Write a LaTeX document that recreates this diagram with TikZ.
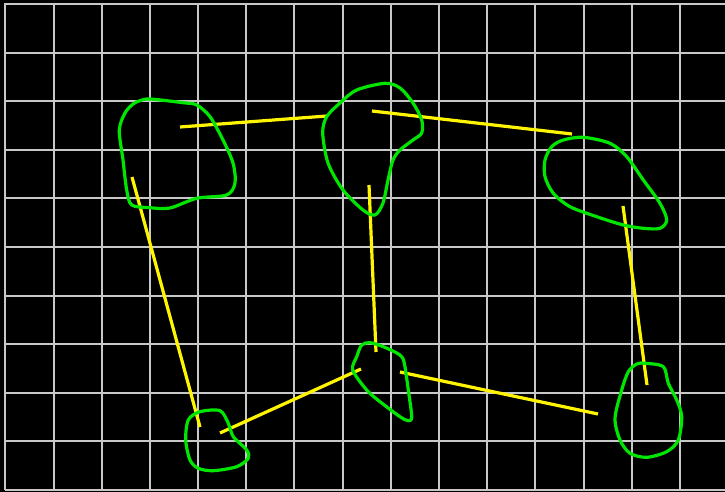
\documentclass[tikz,border=0pt]{standalone}
\definecolor{blobgreen}{RGB}{0,230,0}
\definecolor{linkyellow}{RGB}{255,245,0}
\definecolor{gridgray}{RGB}{200,200,200}
\tikzset{
  blob/.style={draw=blobgreen, line width=3.2pt, line join=round, smooth cycle, tension=0.5},
  link/.style={draw=linkyellow, line width=3.2pt},
  gridline/.style={draw=gridgray, line width=1.6pt}
}
\begin{document}
\begin{tikzpicture}[x=1pt,y=-1pt]
\useasboundingbox (0,0) rectangle (725,492);
\fill[black] (0,0) rectangle (725,492);
% grid
\foreach \k in {0,...,14} {
  \pgfmathsetmacro{\gx}{round(5.3+48.2*\k)}
  \draw[gridline] (\gx,3.5) -- (\gx,490);
}
\foreach \k in {0,...,10} {
  \pgfmathsetmacro{\gy}{round(4+48.6*\k)}
  \draw[gridline] (5,\gy) -- (725,\gy);
}
% link end points
\coordinate (a1) at (180,127);  \coordinate (a2) at (327,116);
\coordinate (b1) at (372,111);  \coordinate (b2) at (572,134);
\coordinate (c1) at (369,185);  \coordinate (c2) at (376,352);
\coordinate (d1) at (132,177);  \coordinate (d2) at (200,427);
\coordinate (e1) at (220,433);  \coordinate (e2) at (361,369);
\coordinate (f1) at (400,372);  \coordinate (f2) at (598,414);
\coordinate (g1) at (623,206);  \coordinate (g2) at (647,385);
% yellow links
\draw[link] (a1) -- (a2);
\draw[link] (b1) -- (b2);
\draw[link] (c1) -- (c2);
\draw[link] (d1) -- (d2);
\draw[link] (e1) -- (e2);
\draw[link] (f1) -- (f2);
\draw[link] (g1) -- (g2);
% green blobs
\draw[blob] plot coordinates {(140,100.7) (150,99) (183,102.7) (196.7,105) (210,116.7) (223,140) (233,163) (235,183) (226.7,195) (196.7,198.3) (170,208) (150,207.7) (131.7,205) (126.7,190) (123,160) (119.3,130) (125,113) (133,104)};
\draw[blob] plot coordinates {(385,83.3) (400,88) (413,103) (421.7,120) (421.7,133) (413,140) (400,150) (393,160) (388,180) (383,203) (375,215) (363,210) (343,190) (328,163) (322.7,133) (326.7,116.7) (340,103) (356.7,90)};
\draw[blob] plot coordinates {(563.3,140) (583.3,137.3) (610,143.3) (626.7,156.7) (643.3,180) (660,203.3) (666.7,220) (660,228.3) (643.3,228.3) (623.3,225) (596.7,216.7) (570,206.7) (553.3,193.3) (545,176.7) (545,160) (551.7,146.7)};
\draw[blob] plot coordinates {(200,411.7) (220,410.7) (228.3,423.3) (233.3,436.7) (246.7,450) (248.3,458.3) (236.7,466.7) (213.3,470.7) (198.3,468.3) (190,460) (185.7,440) (188.3,420)};
\draw[blob] plot coordinates {(361.7,345) (370,342.7) (383.3,346.7) (400,355) (404.3,363.3) (408.3,390) (411.7,416.7) (408.3,420.7) (400,416.7) (380,401.7) (366.7,390) (352.7,370) (356.7,356.7)};
\draw[blob] plot coordinates {(636.7,364) (645,363.3) (663.3,366.7) (668.3,383.3) (676.7,400) (681.7,416.7) (678.3,440) (666.7,451.7) (646.7,457.3) (630,453.3) (620,440) (615,418.3) (621.7,390) (628.3,371.7)};
\end{tikzpicture}
\end{document}
